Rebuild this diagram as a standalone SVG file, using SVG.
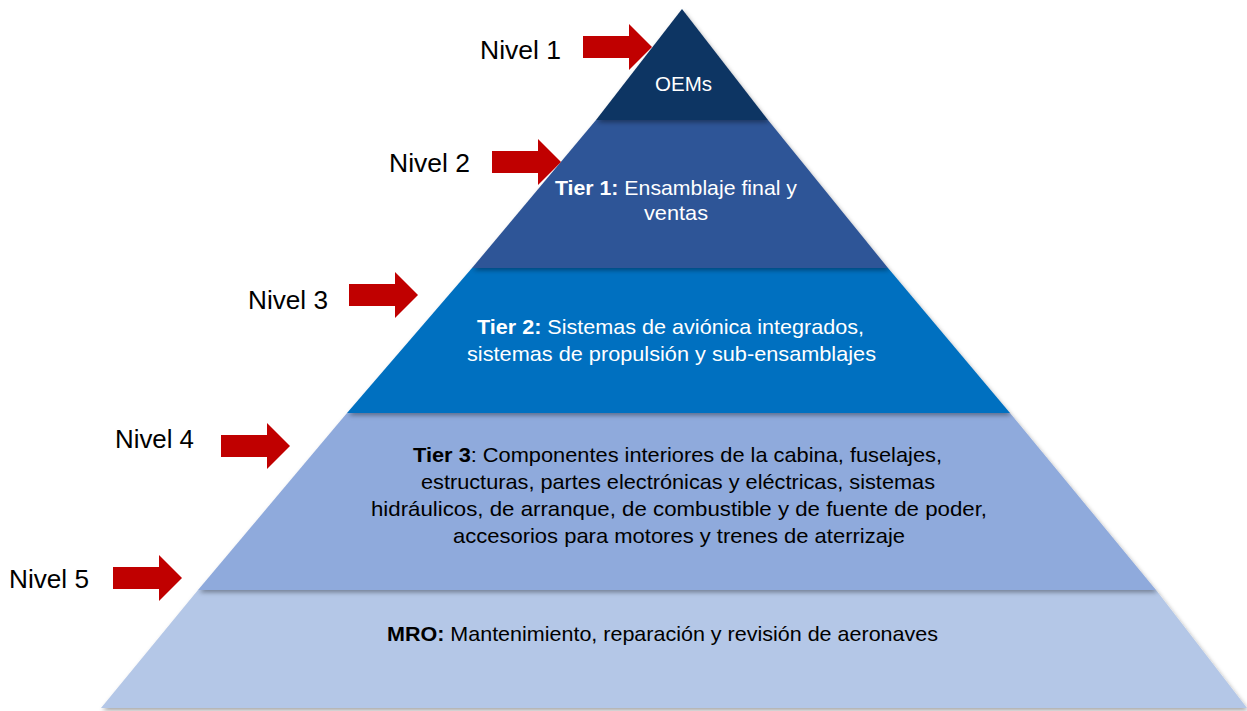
<svg xmlns="http://www.w3.org/2000/svg" xmlns:xlink="http://www.w3.org/1999/xlink" width="1247" height="711" viewBox="0 0 1247 711">
  <style>
    .lvl { font-family: "Liberation Sans", Arial, sans-serif; font-size: 25px; fill: #000; }
    .t { font-family: "Liberation Sans", Arial, sans-serif; font-size: 21px; }
    .w { fill: #ffffff; }
    .k { fill: #000000; }
    .b { font-weight: bold; }
    .arrow { fill: #C00000; }
    .layer { filter: url(#sh); }
  </style>
  <defs>
    <filter id="sh" x="-5%" y="-5%" width="110%" height="115%">
      <feDropShadow dx="1.5" dy="2.5" stdDeviation="2" flood-color="#000" flood-opacity="0.35"/>
    </filter>
    <path id="arr" d="M0,-11 H46 V-23 L69,0 L46,23 V11 H0 Z"/>
  </defs>
  <rect width="1247" height="711" fill="#ffffff"/>

  <g id="layer5">
    <polygon class="layer" points="198,590 1156,590 1247,708 101,708" fill="#B4C7E7"/>
    <text class="t k" x="387" y="641" textLength="551" lengthAdjust="spacingAndGlyphs"><tspan class="b">MRO:</tspan> Mantenimiento, reparación y revisión de aeronaves</text>
  </g>
  <g id="layer4">
    <polygon class="layer" points="347,413 1010,413 1156,590 198,590" fill="#8FAADC"/>
    <text class="t k" x="413" y="462" textLength="529" lengthAdjust="spacingAndGlyphs"><tspan class="b">Tier 3</tspan>: Componentes interiores de la cabina, fuselajes,</text>
    <text class="t k" x="421" y="489" textLength="514" lengthAdjust="spacingAndGlyphs">estructuras, partes electrónicas y eléctricas, sistemas</text>
    <text class="t k" x="371" y="516" textLength="616" lengthAdjust="spacingAndGlyphs">hidráulicos, de arranque, de combustible y de fuente de poder,</text>
    <text class="t k" x="453" y="543" textLength="452" lengthAdjust="spacingAndGlyphs">accesorios para motores y trenes de aterrizaje</text>
  </g>
  <g id="layer3">
    <polygon class="layer" points="472,268 888,268 1010,413 347,413" fill="#0070C0"/>
    <text class="t w" x="477" y="334" textLength="387" lengthAdjust="spacingAndGlyphs"><tspan class="b">Tier 2:</tspan> Sistemas de aviónica integrados,</text>
    <text class="t w" x="467" y="361" textLength="409" lengthAdjust="spacingAndGlyphs">sistemas de propulsión y sub-ensamblajes</text>
  </g>
  <g id="layer2">
    <polygon class="layer" points="596,120 768,120 888,268 472,268" fill="#2F5597"/>
    <text class="t w" x="555" y="195" textLength="242" lengthAdjust="spacingAndGlyphs"><tspan class="b">Tier 1:</tspan> Ensamblaje final y</text>
    <text class="t w" x="644" y="220" textLength="64" lengthAdjust="spacingAndGlyphs">ventas</text>
  </g>
  <g id="layer1">
    <polygon class="layer" points="682,9 768,120 596,120" fill="#0D3463"/>
    <text class="t w" x="655" y="91" textLength="57" lengthAdjust="spacingAndGlyphs">OEMs</text>
  </g>

  <g id="labels">
    <g id="nivel1">
      <text class="lvl" x="480" y="59" textLength="81" lengthAdjust="spacingAndGlyphs">Nivel 1</text>
    </g>
    <g id="nivel2">
      <text class="lvl" x="389" y="172" textLength="81" lengthAdjust="spacingAndGlyphs">Nivel 2</text>
    </g>
    <g id="nivel3">
      <text class="lvl" x="248" y="309" textLength="80" lengthAdjust="spacingAndGlyphs">Nivel 3</text>
    </g>
    <g id="nivel4">
      <text class="lvl" x="115" y="448" textLength="79" lengthAdjust="spacingAndGlyphs">Nivel 4</text>
    </g>
    <g id="nivel5">
      <text class="lvl" x="9" y="588" textLength="80" lengthAdjust="spacingAndGlyphs">Nivel 5</text>
    </g>
  </g>

  <g id="connectors">
    <use href="#arr" xlink:href="#arr" class="arrow" transform="translate(583,47)"/>
    <use href="#arr" xlink:href="#arr" class="arrow" transform="translate(492,162)"/>
    <use href="#arr" xlink:href="#arr" class="arrow" transform="translate(349,295)"/>
    <use href="#arr" xlink:href="#arr" class="arrow" transform="translate(221,446)"/>
    <use href="#arr" xlink:href="#arr" class="arrow" transform="translate(113,578)"/>
  </g>
</svg>
